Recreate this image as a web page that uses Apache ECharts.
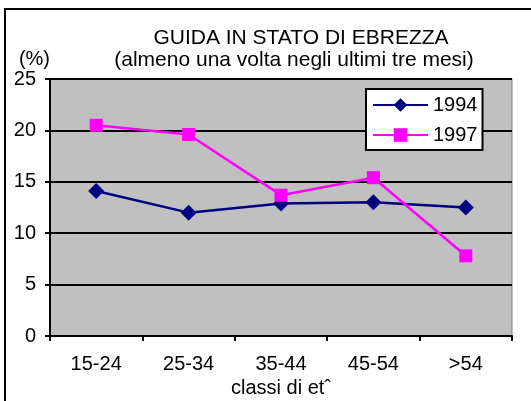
<!DOCTYPE html>
<html>
<head>
<meta charset="utf-8">
<script src="https://cdn.jsdelivr.net/npm/echarts@6/dist/echarts.min.js"></script>
<style>
  html, body { margin: 0; padding: 0; background: #fff; }
  #chart { width: 531px; height: 401px; }
</style>
</head>
<body>
<div id="chart"></div>
<script>
// dati
var categories = ['15-24', '25-34', '35-44', '45-54', '>54'];
var data1994 = [14.1, 12.0, 12.9, 13.0, 12.5];
var data1997 = [20.5, 19.6, 13.7, 15.4, 7.8];
var yTicks = [0, 5, 10, 15, 20, 25];

var font = 'Liberation Sans, Arial, sans-serif';
var myChart = echarts.init(document.getElementById('chart'));

myChart.setOption({
  animation: false,
  textStyle: { fontFamily: font, color: '#000' },
  title: [
    {
      text: 'GUIDA IN STATO DI EBREZZA',
      left: 296, top: 23, textAlign: 'center',
      textStyle: { fontFamily: font, fontSize: 21, fontWeight: 'normal', color: '#000' }
    },
    {
      text: '(almeno una volta negli ultimi tre mesi)',
      left: 289, top: 45, textAlign: 'center',
      textStyle: { fontFamily: font, fontSize: 21, fontWeight: 'normal', color: '#000' }
    }
  ],
  graphic: [{
    type: 'rect',
    shape: { x: 5, y: 9, width: 600, height: 500 },
    style: { fill: 'none', stroke: '#000', lineWidth: 2 },
    silent: true
  }],
  legend: {
    orient: 'vertical',
    left: 366, top: 89,
    backgroundColor: '#fff',
    borderColor: '#000', borderWidth: 2,
    padding: [6, 5, 5, 6],
    itemGap: 10,
    itemWidth: 55, itemHeight: 17,
    textStyle: { fontFamily: font, fontSize: 20, color: '#000' },
    data: ['1994', '1997']
  },
  grid: {
    left: 50, top: 79, right: 19, bottom: 65,
    outerBoundsMode: 'none',
    containLabel: false,
    show: true, backgroundColor: '#C0C0C0', borderColor: '#808080', borderWidth: 1
  },
  xAxis: {
    type: 'category',
    data: categories,
    boundaryGap: true,
    name: 'classi di et\u02c6',
    nameLocation: 'middle',
    nameGap: 42,
    nameTextStyle: { fontFamily: font, fontSize: 20, color: '#000' },
    axisLine: { lineStyle: { color: '#000', width: 2 } },
    axisTick: { show: true, length: 5, lineStyle: { color: '#000', width: 2 } },
    axisLabel: { fontFamily: font, fontSize: 20, color: '#000', margin: 18 },
    splitLine: { show: false }
  },
  yAxis: {
    type: 'value',
    min: yTicks[0], max: yTicks[yTicks.length - 1], interval: 5,
    name: '(%)',
    nameLocation: 'end',
    nameGap: 10,
    nameTextStyle: { fontFamily: font, fontSize: 20, color: '#000', align: 'right' },
    axisLine: { show: true, lineStyle: { color: '#000', width: 2 } },
    axisTick: { show: true, length: 5, lineStyle: { color: '#000', width: 2 } },
    axisLabel: { fontFamily: font, fontSize: 20, color: '#000', margin: 14 },
    splitLine: { show: true, lineStyle: { color: '#000', width: 2 } }
  },
  series: [
    {
      name: '1994',
      type: 'line',
      data: data1994,
      symbol: 'diamond',
      symbolSize: 16,
      color: '#000080',
      lineStyle: { color: '#000080', width: 2.5 },
      itemStyle: { color: '#000080' }
    },
    {
      name: '1997',
      type: 'line',
      data: data1997,
      symbol: 'rect',
      symbolSize: 13,
      color: '#FF00FF',
      lineStyle: { color: '#FF00FF', width: 2.5 },
      itemStyle: { color: '#FF00FF' }
    }
  ]
});
</script>
</body>
</html>
